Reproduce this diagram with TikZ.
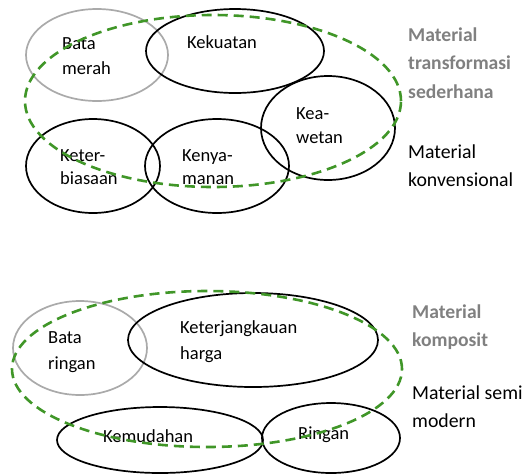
\documentclass[tikz,border=0pt]{standalone}
\usepackage{fontspec}
\setmainfont{Carlito}
\usetikzlibrary{shapes.geometric}
\definecolor{dgreen}{RGB}{64,150,40}
\definecolor{lgray}{RGB}{170,170,170}
\definecolor{tgray}{RGB}{128,128,128}
\tikzset{
  blackell/.style={draw=black, line width=1.7pt, ellipse, inner sep=0pt},
  grayell/.style={draw=lgray, line width=1.7pt, ellipse, inner sep=0pt},
  greenell/.style={draw=dgreen, line width=2.6pt, dash pattern=on 10pt off 6pt, ellipse, inner sep=0pt},
  lbl/.style={anchor=base west, inner sep=0pt, font=\fontsize{18.5}{22}\selectfont},
  rlbl/.style={anchor=base west, inner sep=0pt, font=\fontsize{19.8}{24}\selectfont},
  glbl/.style={rlbl, text=tgray, font=\fontsize{19.6}{24}\selectfont\bfseries},
}
\begin{document}
\begin{tikzpicture}[x=1pt,y=-1pt]
\useasboundingbox (0,0) rectangle (532,475);
% ---- top group ----
\node[grayell, minimum width=142pt, minimum height=92pt] (bm) at (97,55) {};
\node[blackell, minimum width=178pt, minimum height=84pt] (kk) at (235,51) {};
\node[blackell, minimum width=134pt, minimum height=104pt] (kw) at (328,128) {};
\node[blackell, minimum width=134pt, minimum height=94pt] (kb) at (93,166) {};
\node[blackell, minimum width=144pt, minimum height=94pt] (km) at (217,166) {};
\node[lbl] (t1) at (62,49) {Bata};
\node[lbl] (t2) at (62,74) {merah};
\node[lbl] (t3) at (187,48) {Kekuatan};
\node[lbl] (t4) at (296,119) {Kea-};
\node[lbl] (t5) at (296,143) {wetan};
\node[lbl] (t6) at (60,161) {Keter-};
\node[lbl] (t7) at (60,184) {biasaan};
\node[lbl] (t8) at (182,161) {Kenya-};
\node[lbl] (t9) at (182,184) {manan};
\node[greenell, minimum width=376pt, minimum height=172pt] (g1) at (213,101) {};
\node[glbl] (r1) at (408,41) {Material};
\node[glbl] (r2) at (408,69) {transformasi};
\node[glbl] (r3) at (408,98) {sederhana};
\node[rlbl] (r4) at (408,158) {Material};
\node[rlbl] (r5) at (408,186) {konvensional};
% ---- bottom group ----
\node[grayell, minimum width=134pt, minimum height=94pt] (br) at (80,348) {};
\node[blackell, minimum width=250pt, minimum height=94pt] (kh) at (253,340) {};
\node[blackell, minimum width=206pt, minimum height=66pt] (kd) at (160,440) {};
\node[blackell, minimum width=138pt, minimum height=70pt] (rg) at (331,438) {};
\node[lbl] (u1) at (48,343) {Bata};
\node[lbl] (u2) at (48,369) {ringan};
\node[lbl] (u3) at (180,333) {Keterjangkauan};
\node[lbl] (u4) at (180,359) {harga};
\node[lbl] (u5) at (103,442) {Kemudahan};
\node[lbl] (u6) at (298,439) {Ringan};
\node[greenell, minimum width=390pt, minimum height=156pt] (g2) at (207,369) {};
\node[glbl] (s1) at (412,318) {Material};
\node[glbl] (s2) at (412,346) {komposit};
\node[rlbl] (s3) at (412,399) {Material semi};
\node[rlbl] (s4) at (412,427) {modern};
\end{tikzpicture}
\end{document}
